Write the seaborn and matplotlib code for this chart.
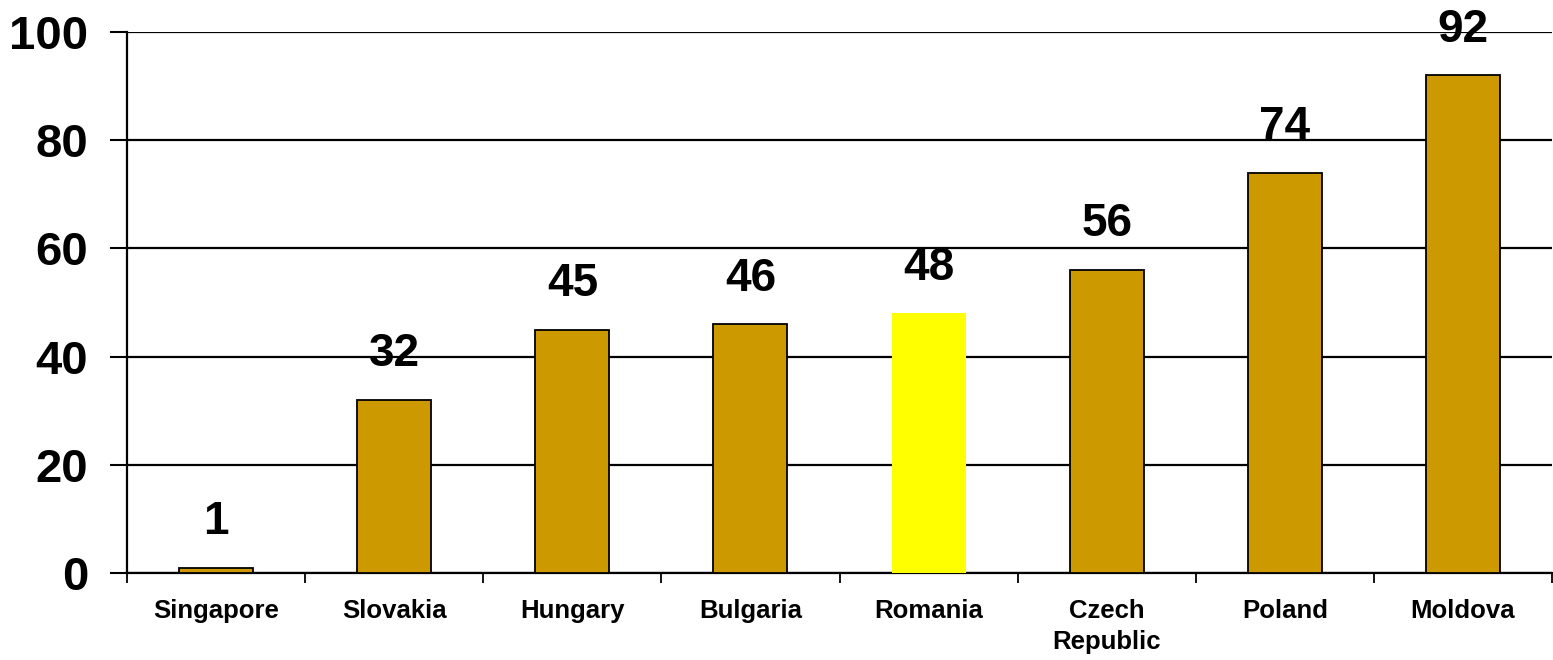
import matplotlib
matplotlib.use("Agg")
import matplotlib.pyplot as plt
import seaborn as sns
import pandas as pd
from matplotlib.ticker import FixedLocator

countries = ["Singapore", "Slovakia", "Hungary", "Bulgaria", "Romania",
             "Czech\nRepublic", "Poland", "Moldova"]
values = [1, 32, 45, 46, 48, 56, 74, 92]
highlight = ["other", "other", "other", "other", "Romania", "other", "other", "other"]
yticks = [0, 20, 40, 60, 80, 100]

df = pd.DataFrame({"country": countries, "value": values, "group": highlight})

sns.set_theme(style="white")
plt.rcParams['font.family'] = ['Liberation Sans', 'DejaVu Sans']

fig = plt.figure(figsize=(15.53, 6.6), dpi=100)
ax = fig.add_axes([127/1553, 1 - 573/660, 1425/1553, 541/660])

sns.barplot(data=df, x="country", y="value", hue="group",
            palette={"other": "#CC9900", "Romania": "#FFFF00"},
            saturation=1, dodge=False, width=0.415, legend=False, ax=ax, zorder=3)

for patch in ax.patches:
    fc = patch.get_facecolor()
    if fc[2] < 0.1 and fc[1] > 0.95:
        patch.set_edgecolor("none")
        patch.set_linewidth(0)
    else:
        patch.set_edgecolor("black")
        patch.set_linewidth(1.3)

for i, v in enumerate(values):
    ax.annotate(str(v), xy=(i, v), xytext=(0, 17), textcoords="offset points",
                ha="center", va="bottom", fontsize=33, fontweight="bold",
                color="black", zorder=4)

ax.set_xlim(-0.5, len(countries) - 0.5)
ax.set_ylim(0, 100)
ax.set_yticks(yticks)
ax.set_yticklabels([str(t) for t in yticks], fontsize=34, fontweight="bold")
ax.set_xlabel("")
ax.set_ylabel("")
for lbl in ax.get_xticklabels():
    lbl.set_fontsize(18.5)
    lbl.set_fontweight("bold")
    lbl.set_linespacing(1.35)

ax.xaxis.set_minor_locator(FixedLocator([i + 0.5 for i in range(-1, len(countries))]))
ax.tick_params(axis="x", which="major", length=0, pad=19, colors="black")
ax.tick_params(axis="x", which="minor", length=7, width=1.3, direction="out",
               color="black", bottom=True)
ax.tick_params(axis="y", which="major", length=12, width=1.5, direction="out",
               color="black", left=True, pad=16, labelcolor="black")

ax.yaxis.grid(True, color="black", linewidth=1.6, zorder=0)
ax.set_axisbelow(True)

for side in ["top", "right"]:
    ax.spines[side].set_visible(False)
for side in ["left", "bottom"]:
    ax.spines[side].set_visible(True)
    ax.spines[side].set_color("black")
    ax.spines[side].set_linewidth(1.6)

fig.savefig("out.png", dpi=100, facecolor="white")
